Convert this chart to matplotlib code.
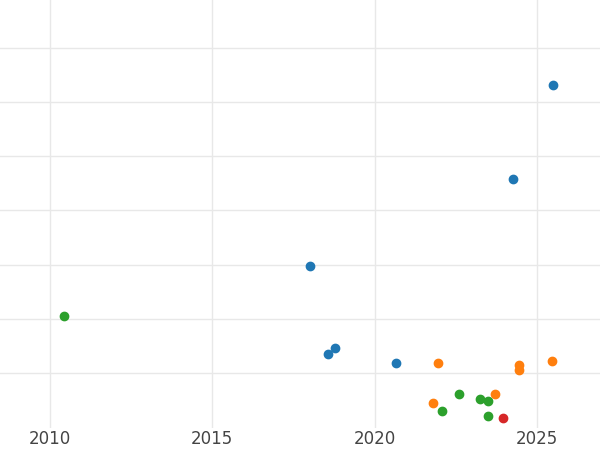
import matplotlib
matplotlib.use("Agg")
import matplotlib.pyplot as plt

# values (x = fractional year, y = arbitrary units)
blue_x = [2025.49, 2024.26, 2018.01, 2018.78, 2018.56, 2020.66]
blue_y = [6.31, 4.58, 2.97, 1.46, 1.35, 1.18]
green_x = [2010.43, 2022.60, 2023.24, 2023.49, 2022.07, 2023.49]
green_y = [2.05, 0.61, 0.52, 0.48, 0.30, 0.21]
orange_x = [2021.95, 2024.44, 2024.44, 2025.46, 2023.70, 2021.80]
orange_y = [1.18, 1.15, 1.06, 1.22, 0.61, 0.45]
red_x = [2023.95]
red_y = [0.17]

xticks = [2010, 2015, 2020, 2025]

fig = plt.figure(figsize=(6, 4.5), dpi=100)
ax = fig.add_axes([0, 0.05, 1, 0.95])

ax.scatter(blue_x, blue_y, s=36, color="#1f77b4", zorder=3)
ax.scatter(green_x, green_y, s=36, color="#2ca02c", zorder=3)
ax.scatter(orange_x, orange_y, s=36, color="#ff7f0e", zorder=3)
ax.scatter(red_x, red_y, s=36, color="#d62728", zorder=3)

ax.set_xlim(2008.46, 2026.94)
ax.set_ylim(0, 7.88)
ax.set_xticks(xticks)
ax.set_xticklabels([str(t) for t in xticks])
ax.set_yticks([1, 2, 3, 4, 5, 6, 7])
ax.set_yticklabels([])
ax.tick_params(axis="both", length=0, labelsize=12, labelcolor="#444444", pad=2)
ax.grid(True, color="#e8e8e8", linewidth=1)
ax.set_axisbelow(True)
for s in ax.spines.values():
    s.set_visible(False)

fig.savefig("out.png", dpi=100)
